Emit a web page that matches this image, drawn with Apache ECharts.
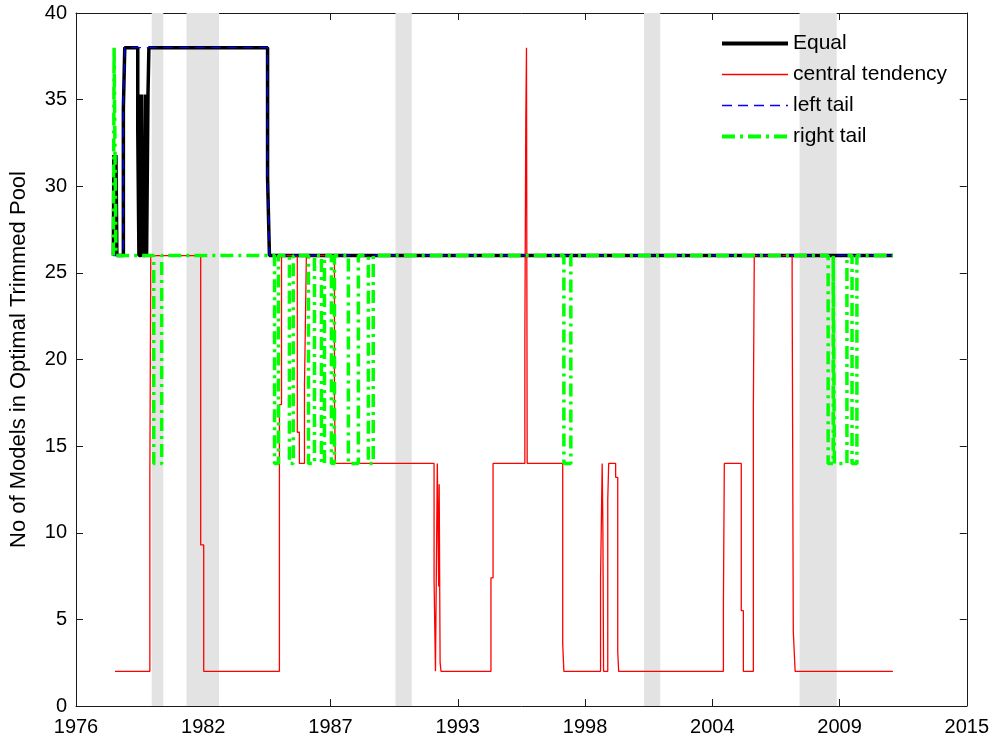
<!DOCTYPE html>
<html>
<head>
<meta charset="utf-8">
<script src="https://cdn.jsdelivr.net/npm/echarts@6/dist/echarts.min.js"></script>
<style>
html,body{margin:0;padding:0;background:#fff;}
#chart{width:992px;height:740px;}
</style>
</head>
<body>
<div id="chart"></div>
<script>
// ---- tick labels and axis layout (decimal years) ----
const xTickLabels = ['1976', '1982', '1987', '1993', '1998', '2004', '2009', '2015'];
const axisStartYear = 1976.74;
const tickStepYears = 5.48;
const yTickMax = 40;

// ---- recession bands [start, end] ----
const recessions = [[1980.0, 1980.5], [1981.5, 1982.9], [1990.5, 1991.2], [2001.2, 2001.9], [2007.9, 2009.5]];

// ---- series: [decimal year, value], value holds until next point ----
const equalSeries = [
  [1978.35, 26], [1978.37, 31.8], [1978.42, 26], [1978.46, 31.8], [1978.50, 26],
  [1978.78, 34.5], [1978.84, 38],
  [1979.40, 33.2], [1979.45, 26], [1979.55, 35.3], [1979.62, 26], [1979.72, 35.3],
  [1979.78, 26], [1979.84, 35.3], [1979.88, 38], [1984.99, 30.5], [1985.07, 26], [2011.92, 26]
];

const centralTendency = [
  [1978.42, 2], [1979.92, 13.1], [1979.96, 26], [1982.11, 9.3], [1982.24, 2],
  [1985.50, 17.4], [1985.59, 26], [1986.27, 15.8], [1986.36, 14], [1986.58, 18.5],
  [1986.66, 26], [1987.87, 17.7], [1987.91, 14], [1992.16, 7.3], [1992.22, 2],
  [1992.30, 14], [1992.36, 6.9], [1992.38, 12.8], [1992.42, 2.5], [1992.46, 2],
  [1994.61, 7.4], [1994.70, 14], [1996.07, 21.1], [1996.11, 33.8], [1996.14, 38],
  [1996.17, 14], [1997.70, 3.6], [1997.75, 2], [1999.33, 7.4], [1999.40, 14],
  [1999.43, 10.3], [1999.46, 2], [1999.64, 11.9], [1999.68, 14], [1999.98, 13.2],
  [2000.07, 3.1], [2000.11, 2], [2004.62, 5.8], [2004.66, 14], [2005.39, 5.5],
  [2005.48, 2], [2005.91, 17.1], [2005.95, 26], [2007.58, 24.4], [2007.63, 4.3],
  [2007.71, 2], [2011.92, 2]
];

const leftTail = [
  [1978.35, 26], [1978.78, 34.5], [1978.84, 38], [1984.99, 30.5], [1985.07, 26], [2011.92, 26]
];

const rightTail = [
  [1978.35, 26], [1978.38, 38], [1978.46, 26], [1980.09, 14], [1980.43, 26],
  [1985.29, 14], [1985.46, 26], [1985.93, 14], [1986.10, 26], [1986.75, 14],
  [1987.01, 26], [1987.31, 14], [1987.44, 26], [1987.74, 14], [1987.87, 26],
  [1988.47, 14], [1988.90, 26], [1989.33, 14], [1989.54, 26], [1997.75, 14],
  [1998.05, 26], [2009.13, 14], [2009.35, 26], [2009.40, 14], [2009.94, 26],
  [2010.16, 14], [2010.37, 26], [2011.92, 26]
];

// ---- chart ----
const FONT = '"Liberation Sans", Arial, Helvetica, sans-serif';
const AXIS_COLOR = '#1a1a1a';
const toX = yr => (yr - axisStartYear) / tickStepYears;
const conv = arr => arr.map(([yr, v]) => [toX(yr), v]);

const chart = echarts.init(document.getElementById('chart'), null, {renderer: 'canvas'});

const xBase = {
  type: 'value', min: 0, max: xTickLabels.length - 1, interval: 1,
  axisLine: {show: true, onZero: false, lineStyle: {color: AXIS_COLOR, width: 1}},
  axisTick: {show: true, inside: true, length: 7, lineStyle: {color: AXIS_COLOR, width: 1}},
  splitLine: {show: false}
};
const yBase = {
  type: 'value', min: 0, max: yTickMax, interval: 5,
  axisLine: {show: true, onZero: false, lineStyle: {color: AXIS_COLOR, width: 1}},
  axisTick: {show: true, inside: true, length: 7, lineStyle: {color: AXIS_COLOR, width: 1}},
  splitLine: {show: false}
};

const option = {
  backgroundColor: '#ffffff',
  animation: false,
  grid: {left: 74, right: 25, top: 13, bottom: 34, containLabel: false},
  xAxis: [
    Object.assign({}, xBase, {
      position: 'bottom',
      axisLabel: {
        show: true, margin: 11, fontSize: 20, fontFamily: FONT, color: '#000',
        showMinLabel: true, showMaxLabel: true, hideOverlap: false,
        formatter: v => xTickLabels[Math.round(v)]
      }
    }),
    Object.assign({}, xBase, {position: 'top', axisLabel: {show: false}})
  ],
  yAxis: [
    Object.assign({}, yBase, {
      position: 'left',
      name: 'No of Models in Optimal Trimmed Pool',
      nameLocation: 'middle',
      nameGap: 46,
      nameRotate: 90,
      nameTextStyle: {fontSize: 22, fontFamily: FONT, color: '#000'},
      axisLabel: {show: true, margin: 9, fontSize: 20, fontFamily: FONT, color: '#000'}
    }),
    Object.assign({}, yBase, {position: 'right', name: '', axisLabel: {show: false}})
  ],
  legend: {
    orient: 'vertical', left: 720, top: 33, padding: 0,
    itemWidth: 66, itemHeight: 12, itemGap: 10,
    itemStyle: {opacity: 0},
    textStyle: {fontSize: 21, fontFamily: FONT, color: '#000', lineHeight: 21},
    data: [
      {name: 'Equal', lineStyle: {width: 4}, itemStyle: {opacity: 0}},
      {name: 'central tendency', lineStyle: {width: 1.5}, itemStyle: {opacity: 0}},
      {name: 'left tail', lineStyle: {width: 1.5}, itemStyle: {opacity: 0}},
      {name: 'right tail', lineStyle: {width: 4}, itemStyle: {opacity: 0}}
    ]
  },
  series: [
    {
      name: 'recessions', type: 'line', data: [], z: 1, silent: true,
      markArea: {
        silent: true,
        itemStyle: {color: '#e3e3e3'},
        data: recessions.map(([a, b]) => [{xAxis: toX(a)}, {xAxis: toX(b)}])
      }
    },
    {
      name: 'Equal', type: 'line', step: 'end', symbol: 'none', showSymbol: false, z: 2,
      data: conv(equalSeries),
      lineStyle: {color: '#000000', width: 3.5}, itemStyle: {color: '#000000'}
    },
    {
      name: 'central tendency', type: 'line', step: 'end', symbol: 'none', showSymbol: false, z: 3,
      data: conv(centralTendency),
      lineStyle: {color: '#ff0000', width: 1.3}, itemStyle: {color: '#ff0000'}
    },
    {
      name: 'left tail', type: 'line', step: 'end', symbol: 'none', showSymbol: false, z: 4,
      data: conv(leftTail),
      lineStyle: {color: '#0000ff', width: 1.3, type: [10, 6]}, itemStyle: {color: '#0000ff'}
    },
    {
      name: 'right tail', type: 'line', step: 'end', symbol: 'none', showSymbol: false, z: 5,
      data: conv(rightTail),
      lineStyle: {color: '#00ff00', width: 3.5, type: [13, 5, 3, 5]}, itemStyle: {color: '#00ff00'}
    }
  ]
};
chart.setOption(option);
</script>
</body>
</html>
